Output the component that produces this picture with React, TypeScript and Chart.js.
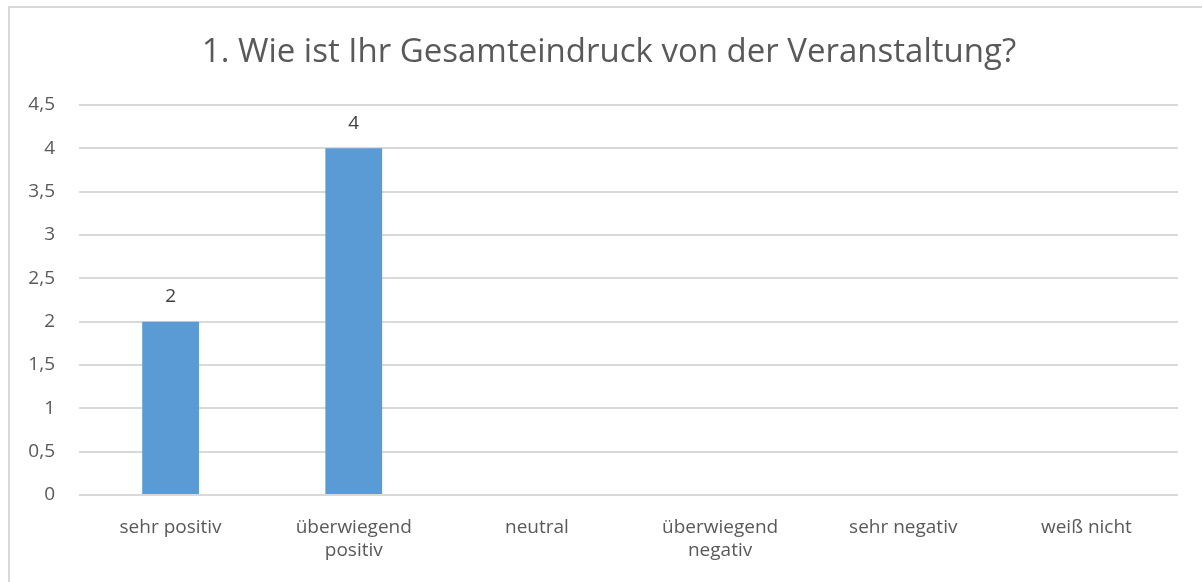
import React, { useEffect, useRef } from "react";
import { Chart, registerables } from "chart.js";

Chart.register(...registerables);

const titleText = "1. Wie ist Ihr Gesamteindruck von der Veranstaltung?";
const categories: (string | string[])[] = [
  "sehr positiv",
  ["überwiegend", "positiv"],
  "neutral",
  ["überwiegend", "negativ"],
  "sehr negativ",
  "weiß nicht",
];
const values: (number | null)[] = [2, 4, null, null, null, null];
const yMin = 0;
const yMax = 4.5;
const yStep = 0.5;

const FONT = "'Open Sans', 'Noto Sans', sans-serif";
const TEXT = "#595959";

const frame = {
  id: "frame",
  beforeDraw(chart: any) {
    const ctx = chart.ctx;
    ctx.save();
    ctx.fillStyle = "#ffffff";
    ctx.fillRect(0, 0, chart.width, chart.height);
    ctx.strokeStyle = "#d9d9d9";
    ctx.lineWidth = 2;
    ctx.beginPath();
    ctx.moveTo(9, chart.height + 5);
    ctx.lineTo(9, 7);
    ctx.lineTo(chart.width + 5, 7);
    ctx.stroke();
    ctx.fillStyle = TEXT;
    ctx.font = `33px ${FONT}`;
    ctx.textAlign = "center";
    ctx.textBaseline = "alphabetic";
    ctx.fillText(titleText, 609, 62);
    ctx.restore();
  },
};

const dataLabels = {
  id: "dataLabels",
  afterDatasetsDraw(chart: any) {
    const ctx = chart.ctx;
    const meta = chart.getDatasetMeta(0);
    ctx.save();
    ctx.font = `19px ${FONT}`;
    ctx.fillStyle = "#404040";
    ctx.textAlign = "center";
    ctx.textBaseline = "middle";
    meta.data.forEach((bar: any, i: number) => {
      const v = values[i];
      if (v === null || v === undefined) return;
      ctx.fillText(String(v), bar.x, bar.y - 25);
    });
    ctx.restore();
  },
};

export default function App() {
  const ref = useRef<HTMLCanvasElement>(null);
  useEffect(() => {
    if (!ref.current) return;
    const chart = new Chart(ref.current, {
      type: "bar",
      data: {
        labels: categories,
        datasets: [
          {
            data: values,
            backgroundColor: "#5b9bd5",
            categoryPercentage: 1,
            barPercentage: 0.31,
          },
        ],
      },
      options: {
        animation: false,
        responsive: false,
        layout: { padding: { left: 0, right: 24, top: 105, bottom: 0 } },
        plugins: {
          legend: { display: false },
          tooltip: { enabled: false },
          title: { display: false },
        },
        scales: {
          x: {
            afterFit(scale: any) {
              scale.height = 87;
            },
            grid: { display: false, drawTicks: false },
            border: { display: false },
            ticks: {
              color: TEXT,
              font: { family: FONT, size: 19, lineHeight: 1.2 },
              padding: 21,
              maxRotation: 0,
              autoSkip: false,
            },
          },
          y: {
            min: yMin,
            max: yMax,
            afterFit(scale: any) {
              scale.width = 79;
            },
            grid: { color: "#d9d9d9", lineWidth: 2, drawTicks: false },
            border: { display: false },
            ticks: {
              stepSize: yStep,
              color: TEXT,
              padding: 24,
              font: { family: FONT, size: 19 },
              callback: (v: any) => String(v).replace(".", ","),
            },
          },
        },
      },
      plugins: [frame, dataLabels],
    });
    return () => chart.destroy();
  }, []);
  return (
    <div style={{ position: "fixed", left: 0, top: 0, width: 1202, height: 582, background: "#fff" }}>
      <canvas ref={ref} width={1202} height={582} style={{ display: "block" }} />
    </div>
  );
}
